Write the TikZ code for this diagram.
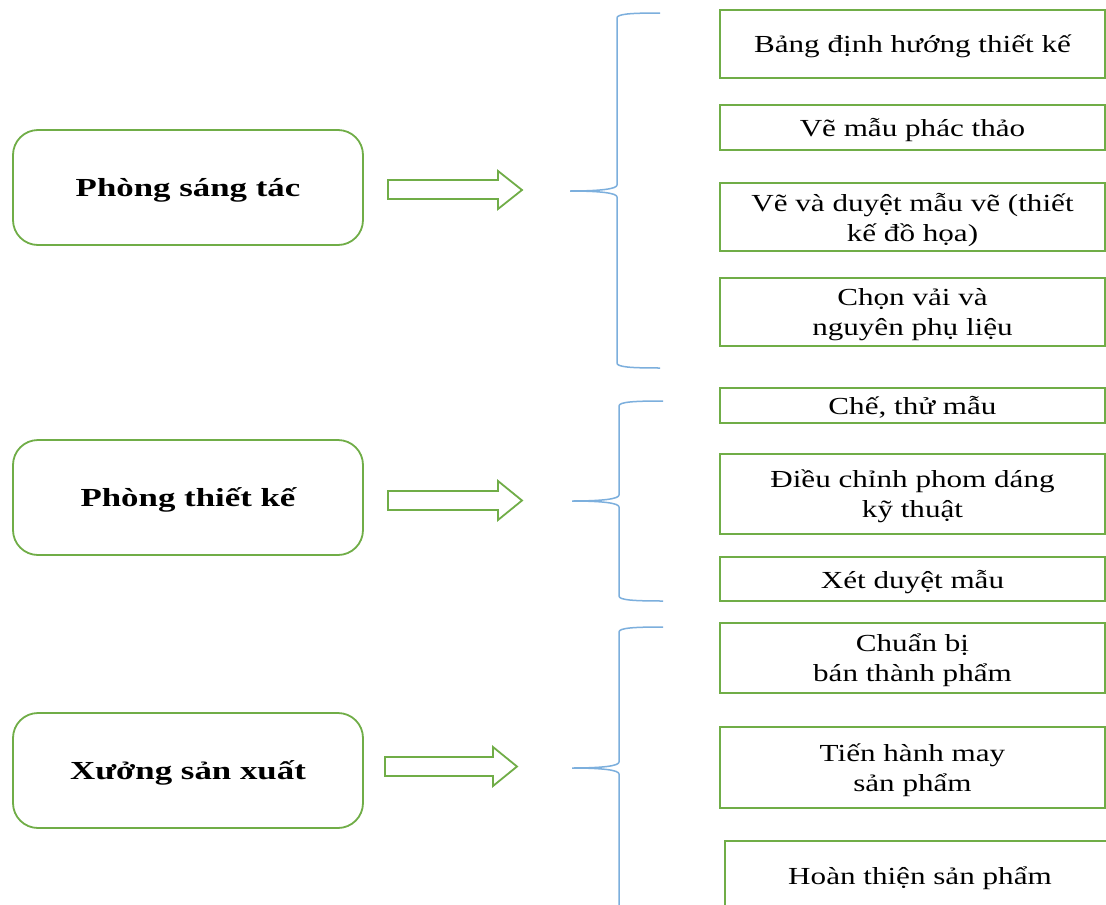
\documentclass[tikz,border=0pt]{standalone}
\usepackage{fontspec}
\setmainfont{Liberation Serif}
\newfontfamily\taskfont[FakeStretch=1.27]{Liberation Serif}
\newfontfamily\deptfont[FakeStretch=1.34]{Liberation Serif}
\definecolor{boxgreen}{HTML}{70AD47}
\definecolor{braceblue}{HTML}{5B9BD5}
\tikzset{
  dept/.style={draw=boxgreen, line width=1.8pt, rounded corners=25pt, minimum width=350pt, minimum height=115pt, inner sep=0pt, text depth=0pt, font=\deptfont\fontsize{26}{30}\selectfont\bfseries},
  task/.style={draw=boxgreen, line width=1.8pt, minimum width=385pt, inner sep=0pt, text depth=0pt, align=center, font=\taskfont\fontsize{24.5}{30}\selectfont},
  blockarrow/.style={draw=boxgreen, line width=1.8pt, fill=white, line join=miter},
  bracepath/.style={draw=braceblue!80, line width=1.5pt}
}
\begin{document}
\begin{tikzpicture}[x=1pt,y=-1pt]
\useasboundingbox (0,0) rectangle (1106,905);
\clip (0,0) rectangle (1106,905);
\fill[white] (0,0) rectangle (1106,905);

% departments
\node[dept] (d1) at (188,187.5) {Phòng sáng tác};
\node[dept] (d2) at (188,497.5) {Phòng thiết kế};
\node[dept] (d3) at (188,770.5) {Xưởng sản xuất};

% tasks
\node[task, minimum height=68pt] (r1) at (912.5,44) {Bảng định hướng thiết kế};
\node[task, minimum height=45pt] (r2) at (912.5,127.5) {Vẽ mẫu phác thảo};
\node[task, minimum height=68pt] (r3) at (912.5,217) {Vẽ và duyệt mẫu vẽ (thiết\\kế đồ họa)};
\node[task, minimum height=68pt] (r4) at (912.5,312) {Chọn vải và\\nguyên phụ liệu};
\node[task, minimum height=35pt] (r5) at (912.5,405.5) {Chế, thử mẫu};
\node[task, minimum height=80pt] (r6) at (912.5,494) {Điều chỉnh phom dáng\\kỹ thuật};
\node[task, minimum height=44pt] (r7) at (912.5,579) {Xét duyệt mẫu};
\node[task, minimum height=70pt] (r8) at (912.5,658) {Chuẩn bị\\bán thành phẩm};
\node[task, minimum height=81pt] (r9) at (912.5,767.5) {Tiến hành may\\sản phẩm};
\node[task, minimum height=70pt, minimum width=390pt] (r10) at (920,876) {Hoàn thiện sản phẩm};

% block arrows
\draw[blockarrow] (388,180) -- (498,180) -- (498,171) -- (522,190) -- (498,209) -- (498,199) -- (388,199) -- cycle;
\draw[blockarrow] (388,491) -- (498,491) -- (498,481) -- (522,500.5) -- (498,520) -- (498,510) -- (388,510) -- cycle;
\draw[blockarrow] (385,757) -- (493,757) -- (493,747) -- (517,766.5) -- (493,786) -- (493,776) -- (385,776) -- cycle;

% braces
\coordinate (b1t) at (660,13);
\coordinate (b1m) at (570,191);
\coordinate (b1b) at (660,368);
\draw[bracepath] (b1t) .. controls (630,13) and (617,14) .. (617,18) -- (617,185)
  .. controls (617,189) and (600,191) .. (b1m)
  .. controls (600,191) and (617,193) .. (617,197) -- (617,363)
  .. controls (617,367) and (630,368) .. (b1b);

\coordinate (b2t) at (663,401);
\coordinate (b2m) at (572,501);
\coordinate (b2b) at (663,601);
\draw[bracepath] (b2t) .. controls (633,401) and (619,402) .. (619,406) -- (619,495)
  .. controls (619,499) and (602,501) .. (b2m)
  .. controls (602,501) and (619,503) .. (619,507) -- (619,596)
  .. controls (619,600) and (633,601) .. (b2b);

\coordinate (b3t) at (663,627);
\coordinate (b3m) at (572,768);
\coordinate (b3b) at (619,910);
\draw[bracepath] (b3t) .. controls (633,627) and (619,628) .. (619,632) -- (619,762)
  .. controls (619,766) and (602,768) .. (b3m)
  .. controls (602,768) and (619,770) .. (619,774) -- (b3b);
\end{tikzpicture}
\end{document}
